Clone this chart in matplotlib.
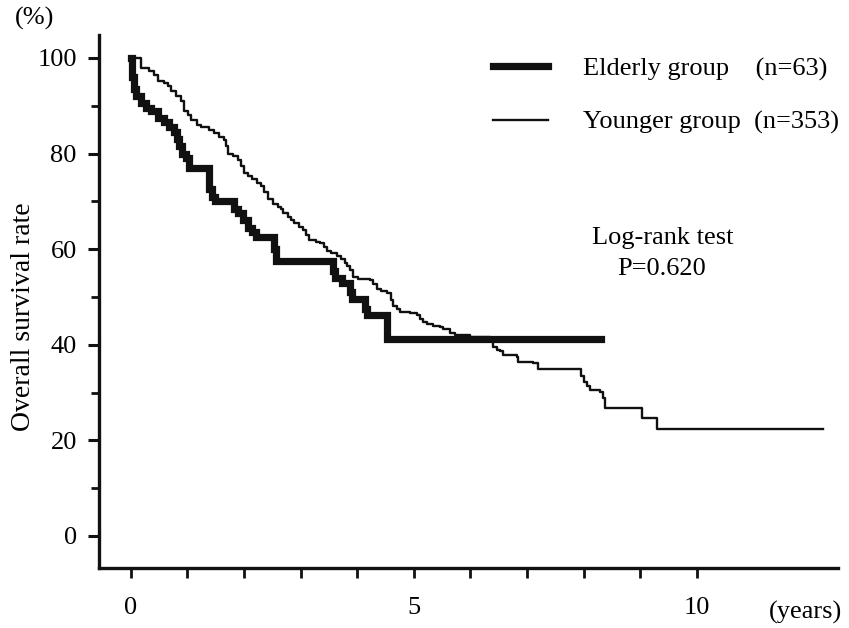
import matplotlib
matplotlib.use("Agg")
import matplotlib.pyplot as plt
from matplotlib.ticker import MultipleLocator, FixedLocator

plt.rcParams['font.family'] = ['Liberation Serif', 'DejaVu Serif']

# ---- data (years, survival %) ----
t_elderly = [0, 0.026, 0.053, 0.088, 0.176, 0.265, 0.353, 0.476, 0.582, 0.670,
             0.758, 0.811, 0.847, 0.899, 0.970, 1.023, 1.376, 1.429, 1.481, 1.817,
             1.887, 1.975, 2.063, 2.134, 2.205, 2.522, 2.557, 3.580, 3.616, 3.739,
             3.880, 3.915, 4.145, 4.180, 4.533, 8.307]
s_elderly = [100, 96, 93.5, 92, 90.5, 89.5, 88.8, 87.5, 86.5, 85.5,
             84.5, 83, 81.5, 80, 79, 77, 72.5, 71, 70, 68.5,
             67.5, 66, 64.5, 63.5, 62.5, 60, 57.5, 55.5, 54, 53,
             51, 49.5, 47.5, 46.2, 41.3, 41.3]

t_younger = [0, 0.176, 0.206, 0.317, 0.406, 0.476, 0.582, 0.653, 0.705, 0.794,
             0.882, 0.935, 1.005, 1.058, 1.164, 1.235, 1.376, 1.464, 1.552, 1.640,
             1.675, 1.711, 1.799, 1.887, 1.940, 1.993, 2.063, 2.134, 2.222, 2.293,
             2.346, 2.416, 2.504, 2.593, 2.646, 2.698, 2.769, 2.822, 2.875, 2.963,
             3.051, 3.104, 3.157, 3.280, 3.351, 3.422, 3.474, 3.545, 3.651, 3.721,
             3.792, 3.827, 3.880, 3.933, 4.021, 4.233, 4.286, 4.356, 4.427, 4.533,
             4.603, 4.638, 4.709, 4.762, 4.938, 5.062, 5.115, 5.168, 5.238, 5.344,
             5.467, 5.520, 5.644, 5.732, 5.996, 6.349, 6.402, 6.473, 6.526, 6.578,
             6.825, 6.843, 7.108, 7.196, 7.954, 8.007, 8.060, 8.113, 8.289, 8.342,
             8.377, 9.030, 9.295, 12.222]
s_younger = [100, 98, 97.8, 97.2, 96.4, 95.2, 94.8, 94.2, 93, 92,
             90.9, 88.8, 88, 87, 86, 85.6, 85, 84.3, 83.5, 82.8,
             81.5, 80, 79.5, 78.7, 77.5, 76, 75.2, 74.6, 73.8, 73.2,
             72, 70.5, 69.5, 68.9, 68.4, 67.6, 66.8, 66, 65.4, 64.7,
             64, 63, 61.9, 61.5, 61.2, 60.5, 59.6, 59.2, 58.6, 58,
             57.2, 56.4, 55.6, 54.2, 53.8, 53.6, 52.8, 51.6, 51.2, 50.8,
             49.4, 48.2, 47.5, 46.8, 46.6, 46.2, 45.4, 44.8, 44.4, 44.0,
             43.8, 43.4, 42.5, 42.0, 41.6, 41.0, 39.6, 39.0, 38.6, 37.9,
             37.5, 36.4, 36.2, 34.9, 33.4, 32.2, 31.4, 30.5, 30.2, 28.9,
             26.8, 24.7, 22.4, 22.4]

label_elderly = "Elderly group    (n=63)"
label_younger = "Younger group  (n=353)"
y_ticks = [0, 20, 40, 60, 80, 100]
x_ticks = [0, 5, 10]

W, H = 849, 628
fig = plt.figure(figsize=(W / 100, H / 100), dpi=100)
ax = fig.add_axes([99 / W, 1 - 568 / H, (838 - 99) / W, (568 - 35) / H])

ax.step(t_elderly, s_elderly, where='post', color='#111111', lw=5.2,
        solid_joinstyle='miter', label=label_elderly)
ax.step(t_younger, s_younger, where='post', color='#111111', lw=1.7,
        label=label_younger)

ax.set_xlim(-0.56, 12.49)
ax.set_ylim(-6.7, 104.8)

for side in ['top', 'right']:
    ax.spines[side].set_visible(False)
for side in ['left', 'bottom']:
    ax.spines[side].set_linewidth(2.4)
    ax.spines[side].set_color('#111111')

ax.yaxis.set_major_locator(FixedLocator(y_ticks))
ax.yaxis.set_minor_locator(MultipleLocator(10))
ax.xaxis.set_major_locator(FixedLocator(x_ticks))
ax.xaxis.set_minor_locator(FixedLocator(list(range(0, 11))))

ax.tick_params(axis='y', which='major', direction='out', length=8, width=2.2,
               labelsize=19, pad=8, color='#111111')
ax.tick_params(axis='y', which='minor', direction='out', length=6, width=2.0,
               color='#111111')
ax.tick_params(axis='x', which='major', direction='out', length=7, width=2.0,
               labelsize=19, pad=14, color='#111111')
ax.tick_params(axis='x', which='minor', direction='out', length=7, width=2.0,
               color='#111111')

ax.set_ylabel("Overall survival rate", fontsize=20)
ax.yaxis.set_label_coords((36 - 99) / 739, (568 - 317) / 533)

fig.text(35 / W, 1 - 18 / H, "(%)", fontsize=19, ha='center', va='center')
fig.text(806 / W, 1 - 612 / H, "(years)", fontsize=19, ha='center', va='center')

fig.text(663 / W, 1 - 238 / H, "Log-rank test", fontsize=19, ha='center', va='center')
fig.text(662 / W, 1 - 269 / H, "P=0.620", fontsize=19, ha='center', va='center')

leg = ax.legend(loc='upper left', bbox_to_anchor=(493 / W, 1 - 57 / H),
                bbox_transform=fig.transFigure, frameon=False, fontsize=19,
                handlelength=2.1, handletextpad=1.3, labelspacing=1.12,
                borderpad=0, borderaxespad=0)

fig.savefig("out.png", dpi=100)
